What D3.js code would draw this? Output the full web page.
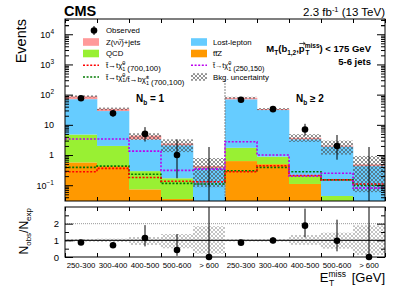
<!DOCTYPE html>
<html>
<head>
<meta charset="utf-8">
<script src="https://cdn.jsdelivr.net/npm/d3@7"></script>
<style>
body { margin: 0; background: #fff; }
text { font-family: "Liberation Sans", Arial, sans-serif; }
</style>
</head>
<body>
<div id="chart"></div>
<script>
// bins: MET ranges, first 5 for Nb = 1, last 5 for Nb >= 2
const binLabels = ["250-300", "300-400", "400-500", "500-600", "> 600",
                   "250-300", "300-400", "400-500", "500-600", "> 600"];

// stacked backgrounds (bottom -> top)
const ttZ     = [0.57, 0.43, 0.073, 0.035, 0.005, 0.63, 0.5, 0.11, 0.01, 0.005];
const qcd     = [4.2, 1.57, 0.22, 0.135, 0.005, 1.1, 0.38, 0.11, 0.034, 0.005];
const lostLep = [66, 26.6, 3.0, 1.93, 0.36, 68.3, 30, 3.1, 1.86, 0.42];
const zinv    = [17, 5.4, 1.1, 0.3, 0.06, 9, 2.5, 0.4, 0.15, 0.06];

// relative bkg uncertainty
const uncUp = [0.08, 0.10, 0.2, 0.38, 0.85, 0.07, 0.08, 0.32, 0.46, 0.9];
const uncDn = [0.08, 0.10, 0.28, 0.48, 0.8, 0.07, 0.08, 0.27, 0.5, 0.88];

// data
const observed = [76, 24, 5, 1, 0, 68, 33, 7, 2, 0];
const obsErrLo = [8.7, 4.9, 2.2, 0.83, 0, 8.2, 5.7, 2.6, 1.3, 0];
const obsErrHi = [9.8, 6.0, 3.4, 2.3, 1.84, 9.3, 6.8, 3.8, 2.6, 1.84];

// signals
const sigTT700 = [0.28, 0.36, 0.18, 0.135, 0.13, 0.28, 0.44, 0.21, 0.15, 0.11];
const sigTB700 = [0.39, 0.43, 0.23, 0.115, 0.11, 0.3, 0.39, 0.28, 0.15, 0.1];
const sigTT250 = [3.4, 3.4, 1.35, 0.31, 0.34, 2.76, 1.0, 0.2, 0.25, 0.08];

const yMajor = [0.1, 1, 10, 100, 1000, 10000];
const ratioTicks = [0, 1, 2];

const W = 407, H = 292;
const left = 65, right = 385, mainTop = 19, mainBot = 201, ratTop = 207, ratBot = 257;
const yMin = 0.03;

const colBkg = { ttZ: "#ff9900", qcd: "#99f033", ll: "#66ccff", z: "#ff9a9a" };

const svg = d3.select("#chart").append("svg")
    .attr("width", W).attr("height", H);

const defs = svg.append("defs");
const pat = defs.append("pattern").attr("id", "hatch")
    .attr("patternUnits", "userSpaceOnUse").attr("width", 4).attr("height", 4);
pat.append("path").attr("d", "M0,0L4,4M4,0L0,4")
    .attr("stroke", "#4a4a4a").attr("stroke-width", 0.6);

defs.append("clipPath").attr("id", "clipMain").append("rect")
    .attr("x", left).attr("y", mainTop).attr("width", right - left).attr("height", mainBot - mainTop);
defs.append("clipPath").attr("id", "clipRat").append("rect")
    .attr("x", left).attr("y", ratTop).attr("width", right - left).attr("height", ratBot - ratTop);

const x = d3.scaleLinear().domain([0, 10]).range([left, right]);
const y = d3.scaleLog().domain([yMin, 3.2e4]).range([mainBot, mainTop]);
const yr = d3.scaleLinear().domain([0, 3]).range([ratBot, ratTop]);
const yc = v => y(Math.max(v, yMin));

// ---------- main panel ----------
const main = svg.append("g").attr("clip-path", "url(#clipMain)");

const rows = binLabels.map((l, i) => ({ i: i, ttZ: ttZ[i], qcd: qcd[i], ll: lostLep[i], z: zinv[i] }));
const stack = d3.stack().keys(["ttZ", "qcd", "ll", "z"])(rows);

main.selectAll("g.layer").data(stack).join("g")
    .attr("class", "layer")
    .attr("fill", s => colBkg[s.key])
    .selectAll("rect").data(s => s).join("rect")
    .attr("x", d => x(d.data.i))
    .attr("width", x(1) - x(0) + 0.3)
    .attr("y", d => yc(d[1]))
    .attr("height", d => yc(d[0]) - yc(d[1]));

const totals = rows.map(r => r.ttZ + r.qcd + r.ll + r.z);

main.selectAll("rect.unc").data(totals).join("rect")
    .attr("class", "unc")
    .attr("x", (d, i) => x(i))
    .attr("width", x(1) - x(0))
    .attr("y", (d, i) => yc(d * (1 + uncUp[i])))
    .attr("height", (d, i) => yc(d * (1 - uncDn[i])) - yc(d * (1 + uncUp[i])))
    .attr("fill", "url(#hatch)");

// divider between Nb = 1 and Nb >= 2
main.append("line")
    .attr("x1", x(5)).attr("x2", x(5))
    .attr("y1", y(300)).attr("y2", mainBot)
    .attr("stroke", "#777").attr("stroke-width", 1.2).attr("stroke-dasharray", "1.5,1.5");

const stepLine = d3.line().curve(d3.curveStepAfter).x(d => x(d[0])).y(d => yc(d[1]));
const signals = [
    { vals: sigTB700, color: "#007a00" },
    { vals: sigTT700, color: "#ff0000" },
    { vals: sigTT250, color: "#bb00ee" }
];
signals.forEach(s => {
    const pts = s.vals.map((v, i) => [i, v]);
    pts.push([10, s.vals[9]]);
    main.append("path").attr("d", stepLine(pts))
        .attr("fill", "none").attr("stroke", s.color)
        .attr("stroke-width", 1.6).attr("stroke-dasharray", "2,1.6");
});

main.selectAll("line.err").data(observed).join("line")
    .attr("class", "err")
    .attr("x1", (d, i) => x(i + 0.5)).attr("x2", (d, i) => x(i + 0.5))
    .attr("y1", (d, i) => yc(d + obsErrHi[i]))
    .attr("y2", (d, i) => yc(d - obsErrLo[i]))
    .attr("stroke", "#000").attr("stroke-width", 1);

main.selectAll("circle.obs").data(observed.map((v, i) => [i, v]).filter(d => d[1] > 0)).join("circle")
    .attr("class", "obs")
    .attr("cx", d => x(d[0] + 0.5)).attr("cy", d => y(d[1]))
    .attr("r", 3.3).attr("fill", "#000");

// frame + ticks main
svg.append("rect").attr("x", left).attr("y", mainTop)
    .attr("width", right - left).attr("height", mainBot - mainTop)
    .attr("fill", "none").attr("stroke", "#000").attr("stroke-width", 1);

const yMinor = [];
yMajor.concat([0.01]).forEach(m => { for (let k = 2; k <= 9; k++) { const v = m * k; if (v > yMin && v < 3.2e4) yMinor.push(v); } });
yMinor.push(2e4, 3e4);

function tickGroup(g) { g.select(".domain").remove(); g.selectAll("line").attr("stroke", "#000"); }

svg.append("g").attr("transform", `translate(${left},0)`)
    .call(d3.axisLeft(y).tickValues(yMajor).tickSize(-8).tickFormat("")).call(tickGroup);
svg.append("g").attr("transform", `translate(${left},0)`)
    .call(d3.axisLeft(y).tickValues(yMinor).tickSize(-4).tickFormat("")).call(tickGroup);
svg.append("g").attr("transform", `translate(${right},0)`)
    .call(d3.axisRight(y).tickValues(yMajor).tickSize(-8).tickFormat("")).call(tickGroup);
svg.append("g").attr("transform", `translate(${right},0)`)
    .call(d3.axisRight(y).tickValues(yMinor).tickSize(-4).tickFormat("")).call(tickGroup);

const xEdges = d3.range(0, 11);
[mainBot, ratBot].forEach(yy => svg.append("g").attr("transform", `translate(0,${yy})`)
    .call(d3.axisBottom(x).tickValues(xEdges).tickSize(-4).tickFormat("")).call(tickGroup));
[mainTop, ratTop].forEach(yy => svg.append("g").attr("transform", `translate(0,${yy})`)
    .call(d3.axisTop(x).tickValues(xEdges).tickSize(-4).tickFormat("")).call(tickGroup));

// y labels main
const yLab = svg.append("g").attr("transform", `translate(${left},0)`)
    .call(d3.axisLeft(y).tickValues(yMajor).tickSize(0).tickPadding(11));
yLab.select(".domain").remove();
yLab.selectAll(".tick text").attr("font-size", 9).attr("fill", "#000")
    .attr("font-family", "Liberation Sans, Arial, sans-serif")
    .each(function (d) {
        const e = Math.round(Math.log10(d));
        const t = d3.select(this);
        if (e >= 2 || e < 0) {
            t.text("10");
            t.append("tspan").attr("dy", -4).attr("font-size", 6.5).text(e < 0 ? "\u2212" + (-e) : e);
        }
    });

// ---------- ratio panel ----------
const rat = svg.append("g").attr("clip-path", "url(#clipRat)");

rat.selectAll("rect.runc").data(totals).join("rect")
    .attr("class", "runc")
    .attr("x", (d, i) => x(i)).attr("width", x(1) - x(0))
    .attr("y", (d, i) => yr(1 + uncUp[i]))
    .attr("height", (d, i) => yr(1 - uncDn[i]) - yr(1 + uncUp[i]))
    .attr("fill", "url(#hatch)").attr("opacity", 0.55);

rat.append("line").attr("x1", left).attr("x2", right).attr("y1", yr(2)).attr("y2", yr(2))
    .attr("stroke", "#999").attr("stroke-width", 1).attr("stroke-dasharray", "1,1");
rat.append("line").attr("x1", left).attr("x2", right).attr("y1", yr(1)).attr("y2", yr(1))
    .attr("stroke", "#222").attr("stroke-width", 1.4);

rat.selectAll("line.rerr").data(observed).join("line")
    .attr("class", "rerr")
    .attr("x1", (d, i) => x(i + 0.5)).attr("x2", (d, i) => x(i + 0.5))
    .attr("y1", (d, i) => yr((d + obsErrHi[i]) / totals[i]))
    .attr("y2", (d, i) => yr(Math.max(0, (d - obsErrLo[i]) / totals[i])))
    .attr("stroke", "#000").attr("stroke-width", 1);

svg.selectAll("circle.robs").data(observed).join("circle")
    .attr("class", "robs")
    .attr("cx", (d, i) => x(i + 0.5)).attr("cy", (d, i) => yr(d / totals[i]))
    .attr("r", 3.3).attr("fill", "#000");

svg.append("rect").attr("x", left).attr("y", ratTop)
    .attr("width", right - left).attr("height", ratBot - ratTop)
    .attr("fill", "none").attr("stroke", "#000").attr("stroke-width", 1);

const rMinor = [0.5, 1.5, 2.5];
svg.append("g").attr("transform", `translate(${left},0)`)
    .call(d3.axisLeft(yr).tickValues(ratioTicks).tickSize(-8).tickFormat("")).call(tickGroup);
svg.append("g").attr("transform", `translate(${left},0)`)
    .call(d3.axisLeft(yr).tickValues(rMinor).tickSize(-4).tickFormat("")).call(tickGroup);
svg.append("g").attr("transform", `translate(${right},0)`)
    .call(d3.axisRight(yr).tickValues(ratioTicks).tickSize(-8).tickFormat("")).call(tickGroup);
svg.append("g").attr("transform", `translate(${right},0)`)
    .call(d3.axisRight(yr).tickValues(rMinor).tickSize(-4).tickFormat("")).call(tickGroup);

const rLab = svg.append("g").attr("transform", `translate(${left},0)`)
    .call(d3.axisLeft(yr).tickValues(ratioTicks).tickSize(0).tickPadding(6).tickFormat(d3.format("d")));
rLab.select(".domain").remove();
rLab.selectAll(".tick text").attr("font-size", 9.5).attr("fill", "#000")
    .attr("font-family", "Liberation Sans, Arial, sans-serif");

// x bin labels
svg.selectAll("text.xl").data(binLabels).join("text")
    .attr("class", "xl")
    .attr("x", (d, i) => x(i + 0.5)).attr("y", 268)
    .attr("text-anchor", "middle").attr("font-size", 7.8).text(d => d);

// ---------- titles ----------
svg.append("text").attr("x", 64).attr("y", 16).attr("font-size", 14.5)
    .attr("font-weight", "bold").text("CMS");

const lumi = svg.append("text").attr("x", right).attr("y", 16).attr("text-anchor", "end").attr("font-size", 11.5);
lumi.append("tspan").text("2.3 fb");
lumi.append("tspan").attr("dy", -4).attr("font-size", 7.5).text("-1");
lumi.append("tspan").attr("dy", 4).text(" (13 TeV)");

svg.append("text").attr("transform", "translate(26,19) rotate(-90)")
    .attr("text-anchor", "end").attr("font-size", 14.5).text("Events");

const ry = svg.append("text").attr("transform", "translate(28,208) rotate(-90)")
    .attr("text-anchor", "end").attr("font-size", 12);
ry.append("tspan").text("N");
ry.append("tspan").attr("dy", 3).attr("font-size", 8).text("obs");
ry.append("tspan").attr("dy", -3).text("/N");
ry.append("tspan").attr("dy", 3).attr("font-size", 8).text("exp");

const xt = svg.append("text").attr("x", right).attr("y", 282).attr("text-anchor", "end").attr("font-size", 13);
xt.append("tspan").text("E");
xt.append("tspan").attr("dy", -5).attr("font-size", 8.5).text("miss");
xt.append("tspan").attr("dx", -17).attr("dy", 9).attr("font-size", 8.5).text("T");
xt.append("tspan").attr("dx", 14).attr("dy", -4).text(" [GeV]");

const nb1 = svg.append("text").attr("x", 136).attr("y", 102).attr("font-size", 10).attr("font-weight", "bold");
nb1.append("tspan").text("N");
nb1.append("tspan").attr("dy", 2.5).attr("font-size", 6.5).text("b");
nb1.append("tspan").attr("dy", -2.5).text(" = 1");
const nb2 = svg.append("text").attr("x", 296).attr("y", 102).attr("font-size", 10).attr("font-weight", "bold");
nb2.append("tspan").text("N");
nb2.append("tspan").attr("dy", 2.5).attr("font-size", 6.5).text("b");
nb2.append("tspan").attr("dy", -2.5).text(" \u2265 2");

const mt = svg.append("text").attr("x", 371).attr("y", 52).attr("text-anchor", "end")
    .attr("font-size", 9.5).attr("font-weight", "bold");
mt.append("tspan").text("M");
mt.append("tspan").attr("dy", 2.5).attr("font-size", 6.5).text("T");
mt.append("tspan").attr("dy", -2.5).text("(b");
mt.append("tspan").attr("dy", 2.5).attr("font-size", 6.5).text("1,2");
mt.append("tspan").attr("dy", -2.5).text(",p");
mt.append("tspan").attr("dy", -4).attr("font-size", 6.5).text("miss");
mt.append("tspan").attr("dx", -14).attr("dy", 6.5).attr("font-size", 6.5).text("T");
mt.append("tspan").attr("dx", 10).attr("dy", -2.5).text(") < 175 GeV");

// vector arrow over the p (char index 8 in the concatenated text)
const pBox = mt.node().getExtentOfChar(8);
const ax0 = pBox.x + 0.5, ax1 = pBox.x + pBox.width + 0.5, ay = 52 - 8.5;
svg.append("path")
    .attr("d", `M${ax0},${ay}H${ax1}M${ax1 - 2},${ay - 1.5}L${ax1},${ay}L${ax1 - 2},${ay + 1.5}`)
    .attr("fill", "none").attr("stroke", "#000").attr("stroke-width", 0.7);

svg.append("text").attr("x", 371).attr("y", 65).attr("text-anchor", "end")
    .attr("font-size", 9.5).attr("font-weight", "bold").text("5-6 jets");

// ---------- legend ----------
const lg = svg.append("g").attr("font-size", 7.8);
lg.append("line").attr("x1", 94).attr("x2", 94).attr("y1", 26).attr("y2", 35).attr("stroke", "#000");
lg.append("circle").attr("cx", 94).attr("cy", 30.5).attr("r", 3.3).attr("fill", "#000");
lg.append("text").attr("x", 106).attr("y", 33.3).text("Observed");

const boxItems = [
    { x: 83, y: 42, fill: colBkg.z },
    { x: 83, y: 53.5, fill: colBkg.qcd },
    { x: 191, y: 42, fill: colBkg.ll },
    { x: 191, y: 53.5, fill: colBkg.ttZ },
    { x: 191, y: 77, fill: "url(#hatch)" }
];
boxItems.forEach(b => lg.append("rect").attr("x", b.x).attr("y", b.y - 3.8)
    .attr("width", 16).attr("height", 7.6).attr("fill", b.fill));

const lineItems = [
    { x: 83, y: 65.3, color: "#ff0000" },
    { x: 83, y: 77, color: "#007a00" },
    { x: 191, y: 65.3, color: "#bb00ee" }
];
lineItems.forEach(l => lg.append("line").attr("x1", l.x).attr("x2", l.x + 16)
    .attr("y1", l.y).attr("y2", l.y).attr("stroke", l.color)
    .attr("stroke-width", 1.6).attr("stroke-dasharray", "2,1.6"));

const txt = (xx, yy) => lg.append("text").attr("x", xx).attr("y", yy + 2.8);
let t;
t = txt(106, 42); t.append("tspan").text("Z(\u03BD\u03BD\u0305)+jets");
txt(106, 53.5).text("QCD");
txt(213, 42).text("Lost-lepton");
txt(213, 53.5).text("t\u0074\u0305Z");

function sparticle(el, dec, sup, sub) {
    el.append("tspan").text(dec);
    el.append("tspan").attr("dy", -3).attr("font-size", 5.5).text(sup);
    el.append("tspan").attr("dx", -3).attr("dy", 5.5).attr("font-size", 5.5).text(sub);
    el.append("tspan").attr("dy", -2.5).text("");
}
t = txt(106, 65.3); sparticle(t, "t\u0303\u2192t\u03C7\u0303", "0", "1"); t.append("tspan").attr("dx", 2).text("(700,100)");
t = txt(106, 77); sparticle(t, "t\u0303\u2192t\u03C7\u0303", "0", "1"); t.append("tspan").text("/");
sparticle(t, "t\u0303\u2192b\u03C7\u0303", "\u00B1", "1"); t.append("tspan").attr("dx", 2).text("(700,100)");
t = txt(213, 65.3).attr("font-size", 7.3); sparticle(t, "t\u0303\u2192t\u03C7\u0303", "0", "1"); t.append("tspan").attr("dx", 2).text("(250,150)");
txt(213, 77).text("Bkg. uncertainty");
</script>
</body>
</html>
